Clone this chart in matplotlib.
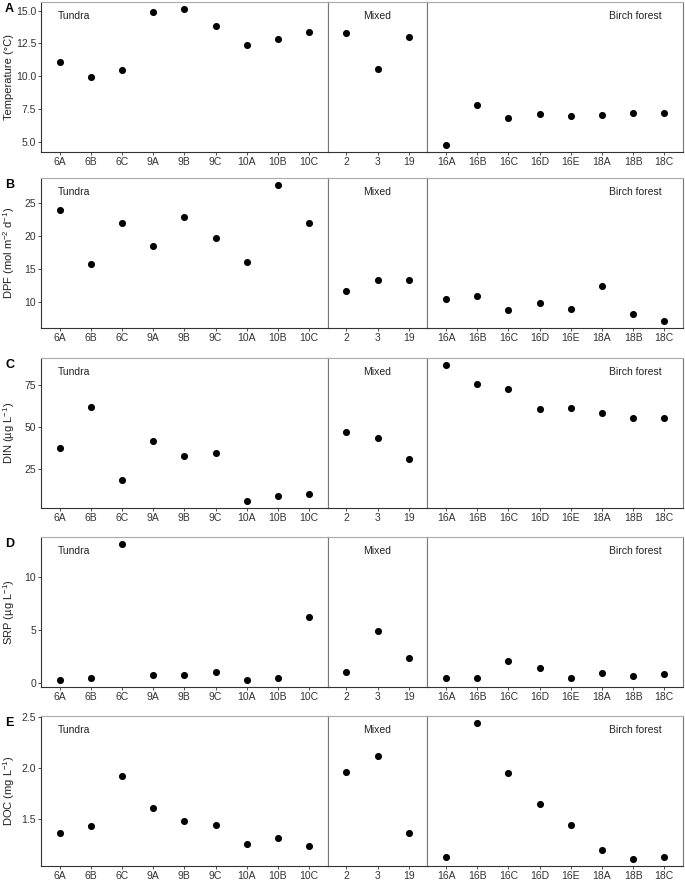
import numpy as np
import matplotlib.pyplot as plt

plt.rcParams['font.family'] = ['Liberation Sans', 'DejaVu Sans']
plt.rcParams['mathtext.fontset'] = 'custom'
plt.rcParams['mathtext.rm'] = 'Liberation Sans'
plt.rcParams['mathtext.it'] = 'Liberation Sans:italic'
plt.rcParams['mathtext.default'] = 'regular'

# sites per habitat
tundra = ['6A', '6B', '6C', '9A', '9B', '9C', '10A', '10B', '10C']
mixed = ['2', '3', '19']
birch = ['16A', '16B', '16C', '16D', '16E', '18A', '18B', '18C']
groups = [('Tundra', tundra), ('Mixed', mixed), ('Birch forest', birch)]

temp_t = [11.07, 9.95, 10.47, 14.87, 15.13, 13.85, 12.37, 12.82, 13.35]
temp_m = [13.27, 10.54, 12.97]
temp_b = [4.75, 7.78, 6.84, 7.13, 6.99, 7.08, 7.23, 7.20]

dpf_t = [24.0, 15.8, 21.95, 18.45, 22.9, 19.8, 16.05, 27.8, 21.95]
dpf_m = [11.7, 13.35, 13.3]
dpf_b = [10.45, 10.95, 8.85, 9.9, 8.9, 12.4, 8.2, 7.1]

din_t = [37.3, 61.9, 18.5, 41.8, 32.4, 34.6, 5.8, 8.6, 9.9]
din_m = [46.7, 43.4, 30.7]
din_b = [86.9, 75.2, 72.5, 60.6, 61.5, 58.4, 55.5, 55.5]

srp_t = [0.25, 0.47, 13.15, 0.72, 0.78, 1.06, 0.31, 0.5, 6.21]
srp_m = [1.03, 4.87, 2.34]
srp_b = [0.5, 0.47, 2.06, 1.41, 0.47, 0.97, 0.66, 0.81]

doc_t = [1.36, 1.433, 1.92, 1.61, 1.478, 1.44, 1.26, 1.31, 1.237]
doc_m = [1.96, 2.118, 1.362]
doc_b = [1.128, 2.439, 1.95, 1.647, 1.44, 1.2, 1.107, 1.128]

rows = [
    ('A', 'Temperature (°C)', [temp_t, temp_m, temp_b], [5.0, 7.5, 10.0, 12.5, 15.0], '{:.1f}'),
    ('B', 'DPF (mol m$^{-2}$ d$^{-1}$)', [dpf_t, dpf_m, dpf_b], [10, 15, 20, 25], '{:d}'),
    ('C', 'DIN (µg L$^{-1}$)', [din_t, din_m, din_b], [25, 50, 75], '{:d}'),
    ('D', 'SRP (µg L$^{-1}$)', [srp_t, srp_m, srp_b], [0, 5, 10], '{:d}'),
    ('E', 'DOC (mg L$^{-1}$)', [doc_t, doc_m, doc_b], [1.5, 2.0, 2.5], '{:.1f}'),
]

W, H = 685, 881
fig = plt.figure(figsize=(W / 100, H / 100), dpi=100)

left, right = 41, 683
row_top = [2, 178, 358, 537, 716]
row_h = 150
widths = [len(g[1]) + 0.2 for g in groups]
unit = (right - left) / sum(widths)

for r, (letter, ylab, vals, ticks, fmt) in enumerate(rows):
    allv = np.concatenate([np.array(v, float) for v in vals])
    lo, hi = allv.min(), allv.max()
    pad = 0.05 * (hi - lo)
    ylim = (lo - pad, hi + pad)
    x0 = left
    top = row_top[r]
    for g, ((name, cats), v) in enumerate(zip(groups, vals)):
        w = widths[g] * unit
        ax = fig.add_axes([x0 / W, 1 - (top + row_h) / H, w / W, row_h / H])
        x0 += w
        ax.scatter(range(len(cats)), v, s=26, color='black', zorder=3, linewidths=0)
        ax.set_xlim(-0.6, len(cats) - 0.4)
        ax.set_ylim(*ylim)
        ax.set_xticks(range(len(cats)))
        ax.set_xticklabels(cats, fontsize=7.5, color='#333333')
        ax.tick_params(axis='x', length=2, width=0.6, color='#333333', pad=1.5)
        for s in ['top', 'right', 'left']:
            ax.spines[s].set_color('#777777')
            ax.spines[s].set_linewidth(0.8)
        ax.spines['bottom'].set_color('#333333')
        ax.spines['bottom'].set_linewidth(0.8)
        ax.spines['top'].set_color('#aaaaaa')
        if g == 0:
            ax.spines['left'].set_color('#333333')
            ax.set_yticks(ticks)
            ax.set_yticklabels([fmt.format(t) for t in ticks], fontsize=7.5, color='#333333')
            ax.tick_params(axis='y', length=2, width=0.6, color='#333333', pad=1.5)
            ax.set_ylabel(ylab, fontsize=8, color='#222222', va='center')
            ax.yaxis.set_label_coords(-(left - 9) / w, 0.5)
        else:
            ax.set_yticks([])
        if g == 0:
            ax.text(0.06, 0.905, name, transform=ax.transAxes, fontsize=7.5,
                    ha='left', va='center', color='#222222')
        elif g == 1:
            ax.text(0.5, 0.905, name, transform=ax.transAxes, fontsize=7.5,
                    ha='center', va='center', color='#222222')
        else:
            ax.text(0.915, 0.905, name, transform=ax.transAxes, fontsize=7.5,
                    ha='right', va='center', color='#222222')
    fig.text(5 / W, 1 - (top + 7) / H, letter, fontsize=9, fontweight='bold',
             ha='left', va='center')

fig.savefig('out.png', dpi=100)
